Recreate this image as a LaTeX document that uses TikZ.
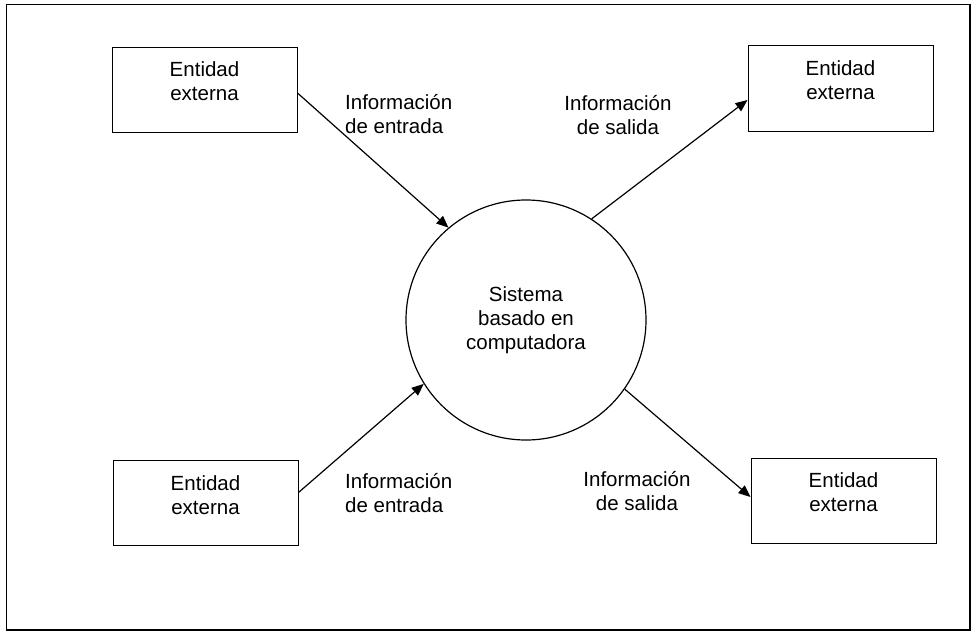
\documentclass[tikz,border=0pt]{standalone}
\usepackage{fontspec}
\setmainfont{Liberation Sans}
\usetikzlibrary{arrows.meta}
\begin{document}
\begin{tikzpicture}[x=1pt,y=-1pt,
  every node/.style={font=\fontsize{20.5}{24}\selectfont},
  entbox/.style={draw,line width=1pt,rectangle,minimum width=185pt,minimum height=85pt,inner sep=0pt},
  txt/.style={align=center,inner sep=0pt},
  ltxt/.style={align=left,inner sep=0pt,anchor=west},
  sysnode/.style={draw,line width=1.2pt,circle,minimum size=240pt,inner sep=0pt,align=center},
  arr/.style={line width=1.2pt,-{Triangle[length=12pt,width=10pt]}}]
\useasboundingbox (0,0) rectangle (975,634);
% frame
\draw[line width=1pt] (6,5) rectangle (970,630);
\draw[line width=2pt] (6,630) -- (970,630) -- (970,5);
% entities
\node[entbox] (tl) at (204.5,90) {};
\node[txt] (tlt) at (204.5,81.5) {Entidad\\externa};
\node[entbox] (tr) at (840.5,88.5) {};
\node[txt] (trt) at (840.5,80) {Entidad\\externa};
\node[entbox] (bl) at (205.5,502.5) {};
\node[txt] (blt) at (205.5,495) {Entidad\\externa};
\node[entbox] (br) at (843.5,500.5) {};
\node[txt] (brt) at (843.5,492) {Entidad\\externa};
% system
\node[sysnode] (sys) at (526,320) {Sistema\\basado en\\computadora};
% labels
\node[ltxt] (l1) at (345,114.5) {Información\\de entrada};
\node[txt] (l2) at (618,115) {Información\\de salida};
\node[ltxt] (l3) at (345,493.5) {Información\\de entrada};
\node[txt] (l4) at (637,491.5) {Información\\de salida};
% connectors
\draw[arr] ([yshift=-3pt]tl.east) -- (sys.130);
\draw[arr] (sys.57) -- ([yshift=-11.5pt]tr.west);
\draw[arr] ([yshift=10pt]bl.east) -- (sys.212);
\draw[arr] (sys.-35) -- ([yshift=3.5pt]br.west);
\end{tikzpicture}
\end{document}
